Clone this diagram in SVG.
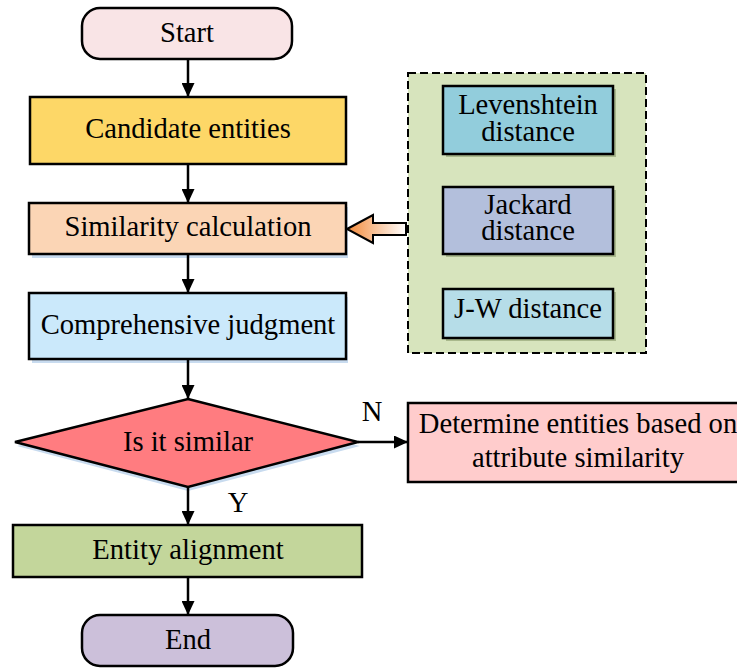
<svg xmlns="http://www.w3.org/2000/svg" width="737" height="668" viewBox="0 0 737 668">
  <style>
    .box { stroke: #000; stroke-width: 2.5; }
    .lbl { font-family: 'Liberation Serif', 'Times New Roman', Tinos, 'DejaVu Serif', serif; font-size: 28.6px; fill: #000; text-anchor: middle; }
    .edge { stroke: #000; stroke-width: 2.5; fill: none; marker-end: url(#arrow); }
    .shadow { fill: #c8dbef; }
    .gshadow { fill: #a9b88c; }
  </style>
  <defs>
    <marker id="arrow" viewBox="0 0 14 13" refX="14" refY="6.5" markerWidth="14" markerHeight="13" markerUnits="userSpaceOnUse" orient="auto">
      <path d="M0,0 L14,6.5 L0,13 Z" fill="#000"/>
    </marker>
    <linearGradient id="feed" x1="0" y1="0" x2="1" y2="0">
      <stop offset="0" stop-color="#f38a3a"/>
      <stop offset="1" stop-color="#ffffff"/>
    </linearGradient>
  </defs>

  <rect width="737" height="668" fill="#fff"/>

  <!-- distance measures panel -->
  <g id="metrics">
    <rect x="408" y="73" width="238" height="280" fill="#d7e4bd" stroke="#000" stroke-width="2" stroke-dasharray="8 4"/>
    <g id="levenshtein">
      <rect class="gshadow" x="446" y="89" width="170" height="68"/>
      <rect class="box" x="443" y="86" width="170" height="68" fill="#92cddc"/>
      <text class="lbl" x="528" y="114">Levenshtein</text>
      <text class="lbl" x="528" y="141">distance</text>
    </g>
    <g id="jackard">
      <rect class="gshadow" x="446" y="190" width="170" height="67"/>
      <rect class="box" x="443" y="187" width="170" height="67" fill="#b3bfdc"/>
      <text class="lbl" x="528" y="214">Jackard</text>
      <text class="lbl" x="528" y="240">distance</text>
    </g>
    <g id="jw">
      <rect class="gshadow" x="446" y="292" width="170" height="49"/>
      <rect class="box" x="443" y="289" width="170" height="49" fill="#b6dde8"/>
      <text class="lbl" x="528" y="318">J-W distance</text>
    </g>
  </g>

  <g id="start">
    <rect class="box" x="82" y="8" width="210" height="51" rx="18" fill="#f9e4e6"/>
    <text class="lbl" x="187" y="42">Start</text>
  </g>

  <g id="candidates">
    <rect class="box" x="30" y="97" width="316" height="67" fill="#fdd767"/>
    <text class="lbl" x="188" y="138">Candidate entities</text>
  </g>

  <g id="similarity">
    <rect class="shadow" x="32" y="207" width="316" height="51"/>
    <rect class="box" x="29" y="203" width="317" height="51" fill="#fbd5b5"/>
    <text class="lbl" x="188" y="236">Similarity calculation</text>
  </g>

  <g id="judgment">
    <rect class="shadow" x="32" y="297" width="316" height="66"/>
    <rect class="box" x="29" y="293" width="317" height="66" fill="#cbe9fb"/>
    <text class="lbl" x="188" y="334">Comprehensive judgment</text>
  </g>

  <g id="decision">
    <polygon class="shadow" points="188,403 360,446 188,491 17,446"/>
    <polygon class="box" points="188,399 358,442 188,487 15,442" fill="#ff7c80"/>
    <text class="lbl" x="188" y="451">Is it similar</text>
  </g>

  <g id="attribute">
    <rect class="box" x="408" y="403" width="345" height="79" fill="#ffcccc"/>
    <text class="lbl" x="578" y="433">Determine entities based on</text>
    <text class="lbl" x="578" y="467">attribute similarity</text>
  </g>

  <g id="alignment">
    <rect class="box" x="13" y="525" width="349" height="52" fill="#c3d69b"/>
    <text class="lbl" x="188" y="559">Entity alignment</text>
  </g>

  <g id="end">
    <rect class="box" x="82" y="615" width="211" height="51" rx="18" fill="#ccc0da"/>
    <text class="lbl" x="188" y="649">End</text>
  </g>

  <g id="connectors">
    <line class="edge" x1="188" y1="59" x2="188" y2="97"/>
    <line class="edge" x1="188" y1="164" x2="188" y2="203"/>
    <line class="edge" x1="188" y1="254" x2="188" y2="293"/>
    <line class="edge" x1="188" y1="359" x2="188" y2="399"/>
    <line class="edge" x1="188" y1="487" x2="188" y2="525"/>
    <line class="edge" x1="188" y1="577" x2="188" y2="615"/>
    <line class="edge" x1="358" y1="442" x2="408" y2="442"/>
    <polygon points="347,229 373,215 373,223 406,223 406,235 373,235 373,243" fill="url(#feed)" stroke="#000" stroke-width="2" stroke-linejoin="miter"/>
    <text class="lbl" x="372" y="421">N</text>
    <text class="lbl" x="238" y="512">Y</text>
  </g>
</svg>
